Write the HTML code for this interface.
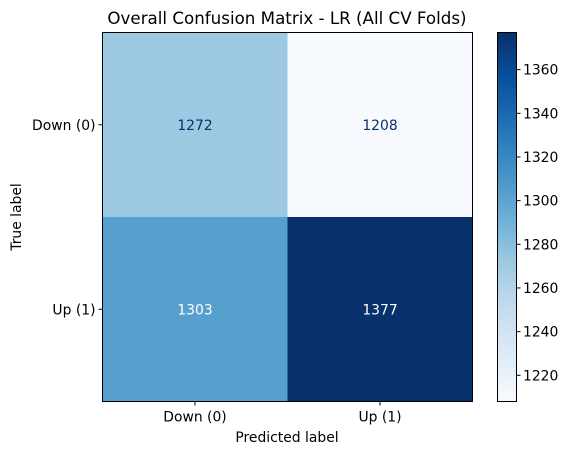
<!DOCTYPE html>
<html><head><meta charset="utf-8"><style>
body{margin:0;background:#fff;}
svg{font-family:"DejaVu Sans","Liberation Sans",sans-serif;}
</style></head><body>
<svg width="570" height="455" id="chart">
<defs><linearGradient id="blues" x1="0" y1="1" x2="0" y2="0">
<stop offset="0" stop-color="#f7fbff"/><stop offset="0.125" stop-color="#deebf7"/><stop offset="0.25" stop-color="#c6dbef"/><stop offset="0.375" stop-color="#9ecae1"/><stop offset="0.5" stop-color="#6baed6"/><stop offset="0.625" stop-color="#4292c6"/><stop offset="0.75" stop-color="#2171b5"/><stop offset="0.875" stop-color="#08519c"/><stop offset="1" stop-color="#08306b"/>
</linearGradient></defs>
<text x="287" y="24" text-anchor="middle" font-size="16.7">Overall Confusion Matrix - LR (All CV Folds)</text>
<g id="cells"></g>
<rect x="102.5" y="32.5" width="370" height="369" fill="none" stroke="#000" stroke-width="1"/>
<text x="287" y="442" text-anchor="middle" font-size="13.9">Predicted label</text>
<text transform="translate(21,217) rotate(-90)" text-anchor="middle" font-size="13.9">True label</text>
<rect x="497.5" y="32.5" width="19" height="369" fill="url(#blues)" stroke="#000" stroke-width="1"/>
<g id="cbticks"></g>
</svg>
<script>
const classes=["Down (0)","Up (1)"];
const matrix=[[1272,1208],[1303,1377]];
const cbTicks=[1220,1240,1260,1280,1300,1320,1340,1360];
const stops=["#f7fbff","#deebf7","#c6dbef","#9ecae1","#6baed6","#4292c6","#2171b5","#08519c","#08306b"];
const NS="http://www.w3.org/2000/svg";
const L=102.5,T=32.5,W=370,H=369;
const flat=matrix.flat();const vmin=Math.min(...flat),vmax=Math.max(...flat);
function hex(h){return [1,3,5].map(i=>parseInt(h.substr(i,2),16));}
function cmap(t){t=Math.max(0,Math.min(1,t));const p=t*8,i=Math.min(7,Math.floor(p)),f=p-i;const a=hex(stops[i]),b=hex(stops[i+1]);return "rgb("+a.map((v,k)=>Math.round(v+(b[k]-v)*f)).join(",")+")";}
function mk(tag,at,par){const e=document.createElementNS(NS,tag);for(const k in at)e.setAttribute(k,at[k]);par.appendChild(e);return e;}
const svg=document.getElementById("chart"),cells=document.getElementById("cells"),cb=document.getElementById("cbticks");
const n=classes.length,cw=W/n,ch=H/n;
for(let r=0;r<n;r++)for(let c=0;c<n;c++){const v=matrix[r][c],t=(v-vmin)/(vmax-vmin);
const rc=mk("rect",{x:L+c*cw,y:T+r*ch,width:cw+0.5,height:ch+0.5,fill:cmap(t)},cells);


const tx=mk("text",{x:L+(c+0.5)*cw,y:T+(r+0.5)*ch+5,"text-anchor":"middle","font-size":"13.9",fill:t>0.5?"#fff":"#08306b"},cells);tx.textContent=v;

}
classes.forEach((lab,i)=>{const x=L+(i+0.5)*cw,y=T+(i+0.5)*ch;
mk("line",{x1:x,y1:T+H,x2:x,y2:T+H+4,stroke:"#000"},svg);
const xt=mk("text",{x:x,y:T+H+20,"text-anchor":"middle","font-size":"13.9"},svg);xt.textContent=lab;


mk("line",{x1:L-4,y1:y,x2:L,y2:y,stroke:"#000"},svg);
const yt=mk("text",{x:L-7,y:y+5,"text-anchor":"end","font-size":"13.9"},svg);yt.textContent=lab;

});
cbTicks.forEach(v=>{const y=T+H-(v-vmin)/(vmax-vmin)*H;
mk("line",{x1:516.5,y1:y,x2:520.5,y2:y,stroke:"#000"},cb);
const t=mk("text",{x:523,y:y+5,"font-size":"13.9"},cb);t.textContent=v;

});
</script>
</body></html>
